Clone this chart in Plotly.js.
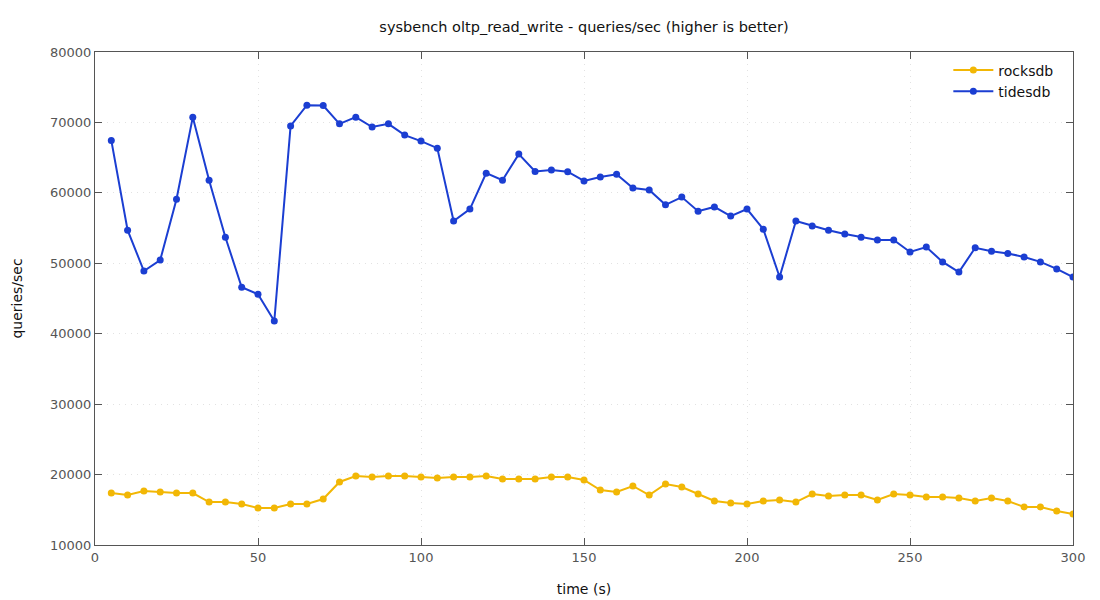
<!DOCTYPE html>
<html>
<head>
<meta charset="utf-8">
<script src="https://cdn.plot.ly/plotly-3.0.1.min.js"></script>
<style>html,body{margin:0;padding:0;background:#fff;}#chart{width:1100px;height:600px;}</style>
</head>
<body>
<div id="chart"></div>
<script>
const timeSec = [5,10,15,20,25,30,35,40,45,50,55,60,65,70,75,80,85,90,95,100,105,110,115,120,125,130,135,140,145,150,155,160,165,170,175,180,185,190,195,200,205,210,215,220,225,230,235,240,245,250,255,260,265,270,275,280,285,290,295,300];
const rocksdb = [17380,17100,17670,17530,17380,17380,16100,16100,15820,15250,15250,15820,15820,16530,18950,19800,19650,19800,19800,19650,19500,19650,19650,19800,19370,19370,19370,19650,19650,19230,17800,17530,18380,17100,18660,18240,17240,16250,15960,15820,16250,16390,16100,17240,16960,17100,17100,16390,17240,17100,16820,16820,16670,16250,16670,16250,15400,15400,14830,14400];
const tidesdb = [67450,54700,48900,50450,59100,70750,61800,53700,46600,45600,41800,69500,72450,72400,69800,70750,69350,69800,68200,67350,66350,56000,57700,62800,61800,65500,63050,63250,63000,61700,62250,62650,60700,60400,58300,59400,57400,58000,56700,57700,54850,48050,56000,55300,54700,54150,53700,53300,53300,51600,52300,50200,48750,52200,51700,51400,50900,50200,49200,48050];
const xTicks = [0,50,100,150,200,250,300];
const yTicks = [10000,20000,30000,40000,50000,60000,70000,80000];

const font = "DejaVu Sans, sans-serif";
const traces = [
  {x: timeSec, y: rocksdb, name: 'rocksdb', type: 'scatter', mode: 'lines+markers',
   line: {color: '#f2b705', width: 2}, marker: {color: '#f2b705', size: 7}},
  {x: timeSec, y: tidesdb, name: 'tidesdb', type: 'scatter', mode: 'lines+markers',
   line: {color: '#1b3ed2', width: 2}, marker: {color: '#1b3ed2', size: 7}}
];
const axisCommon = {
  showline: true, linecolor: '#555', linewidth: 1, mirror: 'ticks',
  ticks: 'inside', ticklen: 7, tickcolor: '#555',
  showgrid: true, gridcolor: '#e2e2e2', griddash: '1px,5px', gridwidth: 1,
  zeroline: false, tickfont: {family: font, size: 13, color: '#555'}
};
const layout = {
  width: 1100, height: 600,
  margin: {l: 95, r: 27, t: 52, b: 55},
  paper_bgcolor: '#fff', plot_bgcolor: '#fff',
  title: {text: 'sysbench oltp_read_write - queries/sec (higher is better)', xref: 'paper', x: 0.5, xanchor: 'center', y: 0.955, yanchor: 'middle',
          font: {family: font, size: 14.5, color: '#111'}},
  xaxis: Object.assign({}, axisCommon, {range: [0, 300], tickvals: xTicks, tickformat: 'd',
          title: {text: 'time (s)', font: {family: font, size: 14, color: '#111'}, standoff: 20}}),
  yaxis: Object.assign({}, axisCommon, {range: [10000, 80000], tickvals: yTicks, tickformat: 'd',
          title: {text: 'queries/sec', font: {family: font, size: 14, color: '#111'}, standoff: 24}}),
  legend: {x: 0.985, y: 0.995, xanchor: 'right', yanchor: 'top', bgcolor: 'rgba(0,0,0,0)',
           font: {family: font, size: 14, color: '#111'}, tracegroupgap: 0, itemwidth: 40},
  showlegend: true
};
Plotly.newPlot('chart', traces, layout, {displayModeBar: false, staticPlot: true});
</script>
</body>
</html>
